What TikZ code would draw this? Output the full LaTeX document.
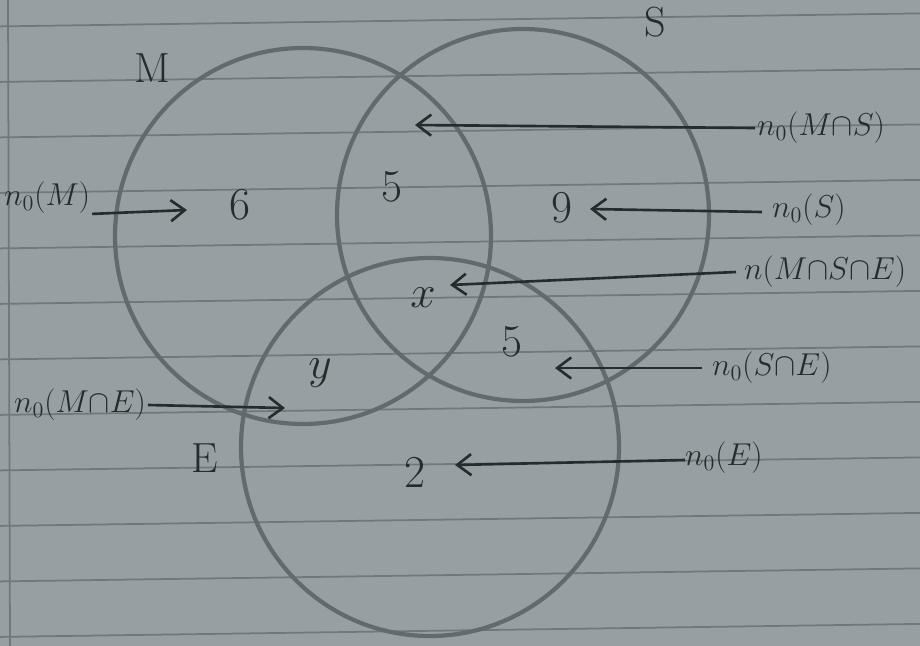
\documentclass[tikz,border=0pt]{standalone}
\usepackage{fix-cm}
\usepackage{tikz}
\usetikzlibrary{arrows.meta}
\definecolor{paper}{RGB}{150,160,163}
\definecolor{ruling}{RGB}{112,120,123}
\definecolor{pencil}{RGB}{98,106,109}
\definecolor{ink}{RGB}{38,44,46}
\tikzset{
    rule/.style={draw=ruling, line width=1pt},
    setcircle/.style={draw=pencil, line width=2.4pt},
    setname/.style={text=ink, font=\fontsize{24}{28}\selectfont},
    count/.style={text=ink, font=\fontsize{26}{30}\selectfont},
    tag/.style={text=ink, font=\fontsize{18}{21}\selectfont, inner sep=1pt},
    arr/.style={-{Straight Barb[length=8pt, width=12pt]}, line width=1.5pt, color=ink}
}
\begin{document}
\begin{tikzpicture}[x=0.02cm, y=-0.02cm]
    \useasboundingbox (0,0) rectangle (920,646);
    % lined paper
    \fill[paper] (0,0) rectangle (920,646);
    \foreach \k in {0,...,11}
        \draw[rule] (0,{26.4+55.5*\k}) -- (920,{26.4+55.5*\k-13});
    \draw[rule] (8,0) -- (10,646);
    % the three sets
    \draw[setcircle] (303,236) circle (188);
    \draw[setcircle] (523,215) circle (186);
    \draw[setcircle] (430,447) circle (189);
    \node[setname] (nameM) at (152,68) {M};
    \node[setname] (nameS) at (655,22) {S};
    \node[setname] (nameE) at (205,458) {E};
    % region counts
    \node[count] (cM) at (240,205) {6};
    \node[count] (cMS) at (392,187) {5};
    \node[count] (cS) at (562,208) {9};
    \node[count] (cMSE) at (423,298) {$x$};
    \node[count] (cME) at (320,373) {$y$};
    \node[count] (cSE) at (512,342) {5};
    \node[count] (cE) at (415,472) {2};
    % labels on the right
    \node[tag, anchor=west] (lMS) at (755,128) {$n_0(M{\cap}S)$};
    \node[tag, anchor=west] (lS) at (770,210) {$n_0(S)$};
    \node[tag, anchor=west] (lMSE) at (742,272) {$n(M{\cap}S{\cap}E)$};
    \node[tag, anchor=west] (lSE) at (710,368) {$n_0(S{\cap}E)$};
    \node[tag, anchor=west] (lE) at (683,458) {$n_0(E)$};
    % labels on the left
    \node[tag, anchor=west] (lM) at (2,198) {$n_0(M)$};
    \node[tag, anchor=west] (lME) at (12,405) {$n_0(M{\cap}E)$};
    \coordinate (tMS) at (415,125);
    \coordinate (tS) at (590,209);
    \coordinate (tMSE) at (450,285);
    \coordinate (tSE) at (555,368);
    \coordinate (tE) at (455,465);
    \coordinate (tM) at (187,210);
    \coordinate (tME) at (285,408);
    \draw[arr] (lMS.west) -- (tMS);
    \draw[arr] (lS.west) ++(-8,2) -- (tS);
    \draw[arr] (lMSE.west) ++(-6,0) -- (tMSE);
    \draw[arr] (lSE.west) ++(-8,0) -- (tSE);
    \draw[arr] (lE.west) ++(2,2) -- (tE);
    \draw[arr] (lM.south east) ++(0,-2) -- (tM);
    \draw[arr] (lME.east) -- (tME);
\end{tikzpicture}
\end{document}
